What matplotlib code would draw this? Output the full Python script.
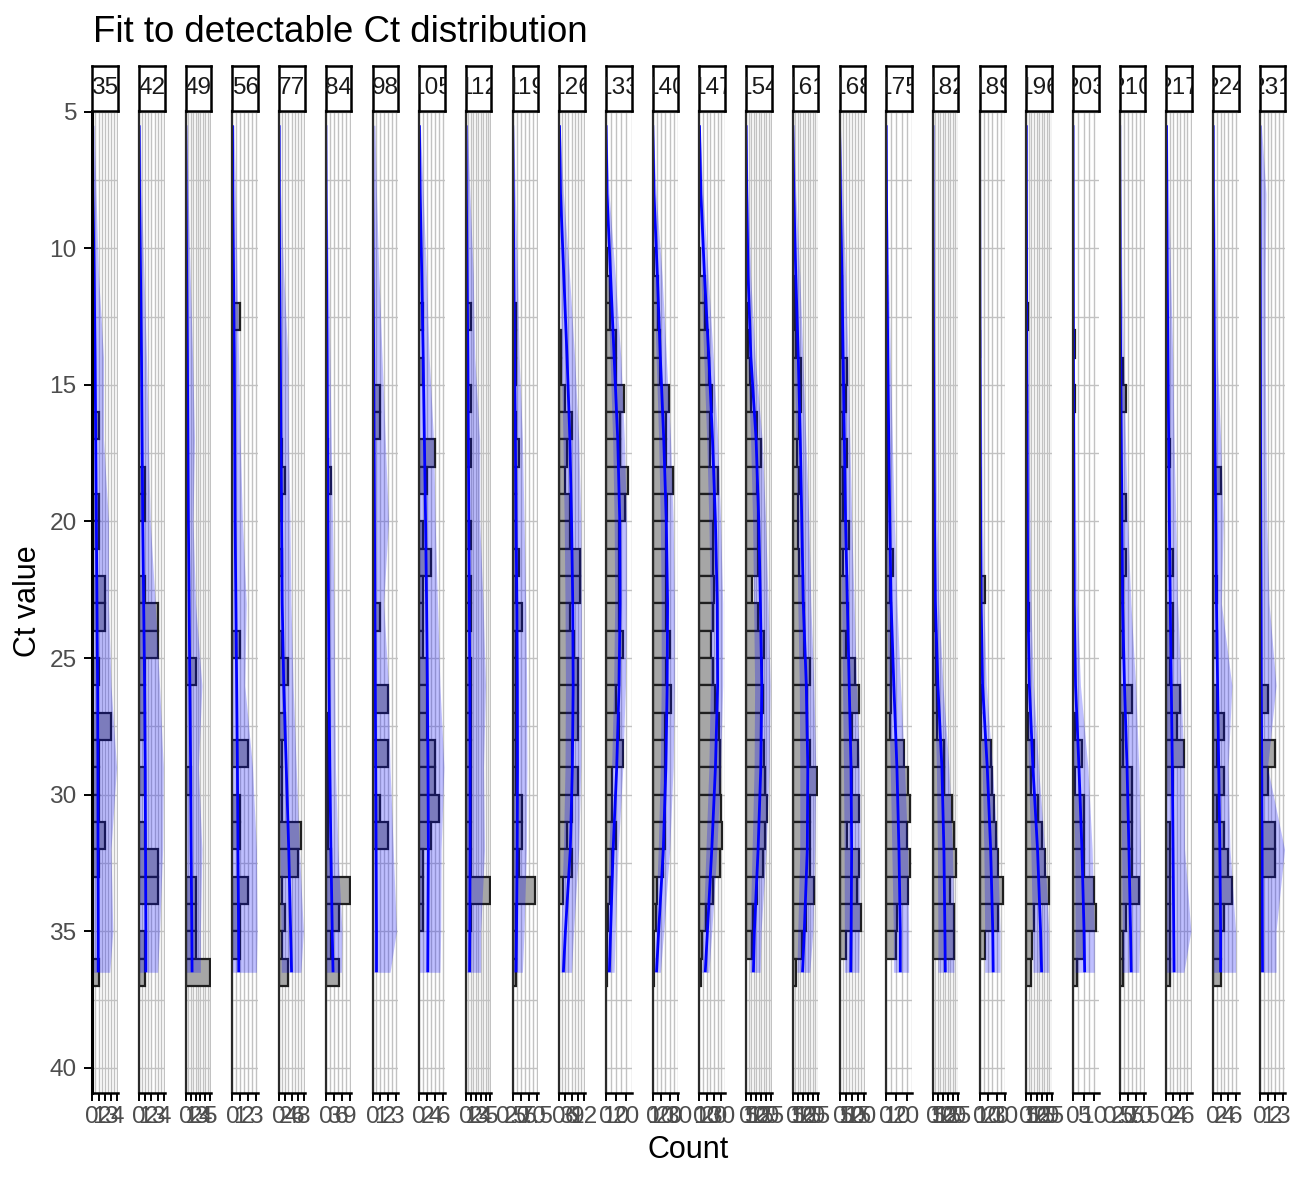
import matplotlib
matplotlib.use('Agg')
import matplotlib.pyplot as plt
from matplotlib.ticker import MultipleLocator, FuncFormatter

plt.rcParams['font.family'] = ['Liberation Sans', 'DejaVu Sans']

# ---------------- data ----------------
days = [35, 42, 49, 56, 77, 84, 98, 105, 112, 119, 126, 133, 140, 147,
        154, 161, 168, 175, 182, 189, 196, 203, 210, 217, 224, 231]

x_max = [4.1, 4.1, 5.2, 3.3, 8.2, 9.5, 3.2, 6.4, 5.2, 7.8, 12.5, 25, 30, 35,
         25.5, 25.5, 21, 25, 25.5, 30, 25, 12, 8, 7.3, 6.8, 3.3]
x_step = [1, 1, 1, 1, 2, 3, 1, 2, 1, 2.5, 3, 10, 10, 10,
          5, 5, 5, 10, 5, 10, 5, 5, 2.5, 2, 2, 1]

# histogram counts: {bin left edge (Ct): count}, bins of width 1
bar_counts = [
    {16: 1, 19: 1, 20: 1, 22: 2, 23: 2, 25: 1, 27: 3, 28: 1, 29: 1, 30: 1, 31: 2, 32: 1, 36: 1},
    {18: 1, 19: 1, 22: 1, 23: 3, 24: 3, 25: 1, 26: 1, 27: 1, 29: 1, 31: 1, 32: 3, 33: 3, 35: 1, 36: 1},
    {25: 2, 29: 1, 33: 2, 34: 2, 35: 2, 36: 5},
    {12: 1, 24: 1, 28: 2, 30: 1, 31: 1, 33: 2, 34: 1, 35: 1},
    {17: 1, 18: 2, 19: 1, 21: 1, 24: 1, 25: 3, 27: 2, 28: 1, 29: 1, 30: 1, 31: 7, 32: 6, 33: 1, 34: 2, 35: 1, 36: 3},
    {17: 1, 18: 2, 27: 1, 28: 1, 29: 1, 30: 1, 31: 1, 32: 2, 33: 9, 34: 5, 35: 2, 36: 5},
    {15: 1, 16: 1, 23: 1, 26: 2, 28: 2, 30: 1, 31: 2},
    {12: 1, 14: 1, 17: 4, 18: 2, 20: 1, 21: 3, 22: 1, 23: 1, 24: 1, 25: 2, 26: 2, 27: 2, 28: 4, 29: 4, 30: 5, 31: 3, 32: 1, 33: 1, 34: 1},
    {12: 1, 15: 1, 17: 1, 20: 1, 22: 1, 23: 1, 25: 1, 26: 1, 27: 1, 28: 1, 29: 1, 30: 1, 31: 1, 32: 1, 33: 5, 34: 1},
    {12: 1, 13: 1, 14: 1, 16: 1, 17: 2, 18: 1, 19: 1, 20: 1, 21: 2, 22: 1, 23: 3, 24: 1, 25: 1, 26: 1, 27: 1, 28: 1, 29: 1, 30: 3, 31: 3, 32: 2, 33: 7, 34: 1, 35: 1, 36: 1},
    {13: 1, 14: 1, 15: 3, 16: 6, 17: 4, 18: 3, 19: 5, 20: 5, 21: 10, 22: 10, 23: 5, 24: 7, 25: 9, 26: 9, 27: 9, 28: 6, 29: 9, 30: 6, 31: 4, 32: 6, 33: 2},
    {10: 1, 11: 4, 12: 4, 13: 10, 14: 10, 15: 18, 16: 14, 17: 14, 18: 22, 19: 19, 20: 13, 21: 13, 22: 13, 23: 13, 24: 17, 25: 13, 26: 10, 27: 13, 28: 17, 29: 6, 30: 6, 31: 10, 32: 6, 33: 4, 34: 2, 35: 1, 36: 1},
    {10: 1, 11: 6, 12: 6, 13: 9, 14: 8, 15: 19, 16: 16, 17: 16, 18: 24, 19: 17, 20: 16, 21: 16, 22: 16, 23: 16, 24: 20, 25: 16, 26: 21, 27: 14, 28: 14, 29: 14, 30: 14, 31: 14, 32: 12, 33: 5, 34: 4, 35: 2, 36: 1},
    {10: 1, 11: 7, 12: 7, 13: 12, 14: 13, 15: 17, 16: 14, 17: 15, 18: 26, 19: 20, 20: 18, 21: 18, 22: 20, 23: 18, 24: 16, 25: 18, 26: 22, 27: 27, 28: 28, 29: 28, 30: 30, 31: 31, 32: 28, 33: 18, 34: 9, 35: 4, 36: 2},
    {12: 1, 13: 2, 14: 4, 15: 5, 16: 11, 17: 15, 18: 11, 19: 12, 20: 12, 21: 12, 22: 6, 23: 12, 24: 18, 25: 16, 26: 17, 27: 15, 28: 18, 29: 19, 30: 21, 31: 19, 32: 17, 33: 11, 34: 7, 35: 6},
    {11: 2, 12: 2, 13: 3, 14: 8, 15: 8, 16: 6, 17: 4, 18: 6, 19: 5, 20: 5, 21: 6, 22: 10, 23: 11, 24: 11, 25: 17, 26: 14, 27: 14, 28: 17, 29: 24, 30: 17, 31: 17, 32: 17, 33: 21, 34: 13, 35: 9, 36: 3},
    {11: 2, 12: 2, 13: 2, 14: 6, 15: 5, 16: 3, 17: 6, 18: 3, 19: 3, 20: 8, 21: 3, 22: 6, 23: 7, 24: 5, 25: 13, 26: 16, 27: 10, 28: 15, 29: 10, 30: 16, 31: 6, 32: 16, 33: 14, 34: 18, 35: 5},
    {11: 1, 12: 1, 13: 1, 14: 1, 15: 1, 16: 1, 17: 2, 18: 1, 19: 1, 20: 1, 21: 7, 22: 4, 23: 5, 24: 5, 25: 5, 26: 5, 27: 4, 28: 17, 29: 21, 30: 23, 31: 20, 32: 23, 33: 21, 34: 11, 35: 10},
    {19: 1, 21: 1, 22: 1, 23: 2, 24: 3, 25: 3, 26: 4, 27: 4, 28: 11, 29: 11, 30: 19, 31: 21, 32: 23, 33: 17, 34: 21, 35: 21},
    {13: 1, 18: 1, 20: 1, 22: 6, 23: 1, 24: 1, 25: 1, 26: 2, 27: 2, 28: 13, 29: 15, 30: 17, 31: 19, 32: 22, 33: 28, 34: 22, 35: 6},
    {12: 2, 15: 1, 16: 1, 19: 1, 23: 3, 26: 1, 27: 2, 28: 8, 29: 5, 30: 11, 31: 15, 32: 18, 33: 22, 34: 8, 35: 6, 36: 5},
    {13: 1, 15: 1, 27: 1, 28: 4, 29: 1, 30: 5, 31: 5, 32: 5, 33: 10, 34: 11, 35: 5, 36: 2},
    {14: 1, 15: 2, 19: 2, 21: 2, 22: 1, 23: 1, 24: 1, 26: 4, 27: 1, 28: 1, 29: 4, 30: 4, 31: 4, 32: 4, 33: 6, 34: 2, 35: 1, 36: 1},
    {17: 1, 21: 2, 23: 2, 24: 2, 25: 1, 26: 4, 27: 3, 28: 5, 29: 2, 31: 1, 32: 1, 33: 1, 34: 1, 35: 1, 36: 1},
    {18: 2, 22: 1, 24: 1, 26: 1, 27: 3, 28: 1, 29: 3, 30: 1, 31: 3, 32: 4, 33: 5, 34: 3, 35: 2, 36: 2},
    {26: 1, 28: 2, 29: 1, 31: 2, 32: 2},
]

# Ct values at which the fitted curve and its band were read
fit_ct = [5.5, 8, 11, 14, 17, 20, 23, 26, 29, 32, 35, 36.5]

fit_line = [
    [0.02, 0.1, 0.3, 0.45, 0.55, 0.65, 0.75, 0.85, 0.9, 0.92, 0.95, 0.95],
    [0.02, 0.1, 0.25, 0.4, 0.5, 0.6, 0.75, 0.9, 1.0, 1.05, 1.1, 1.1],
    [0.02, 0.1, 0.2, 0.35, 0.45, 0.55, 0.7, 0.85, 1.0, 1.1, 1.25, 1.3],
    [0.01, 0.05, 0.15, 0.25, 0.3, 0.35, 0.45, 0.55, 0.65, 0.72, 0.8, 0.82],
    [0.02, 0.05, 0.2, 0.4, 0.6, 0.8, 1.0, 1.5, 2.3, 3.1, 3.7, 4.0],
    [0.02, 0.1, 0.3, 0.5, 0.65, 0.8, 1.0, 1.2, 1.5, 1.9, 2.4, 2.7],
    [0.01, 0.03, 0.08, 0.15, 0.2, 0.25, 0.3, 0.35, 0.4, 0.45, 0.5, 0.5],
    [0.05, 0.25, 0.65, 1.0, 1.3, 1.6, 1.85, 2.05, 2.2, 2.3, 2.2, 2.15],
    [0.02, 0.1, 0.25, 0.4, 0.5, 0.6, 0.7, 0.8, 0.85, 0.85, 0.8, 0.75],
    [0.03, 0.2, 0.4, 0.6, 0.85, 1.05, 1.3, 1.45, 1.5, 1.4, 1.2, 1.05],
    [0.1, 0.6, 2.2, 3.8, 5.2, 6.0, 6.6, 6.8, 6.4, 5.4, 3.0, 2.0],
    [0.1, 1.0, 4.5, 8.0, 11.5, 13.5, 13.8, 12.8, 10.5, 7.0, 4.5, 3.3],
    [0.1, 1.5, 5.5, 9.0, 13.0, 16.0, 17.5, 17.0, 15.5, 12.5, 7.0, 4.5],
    [0.1, 2.0, 7.0, 13.0, 18.0, 22.0, 24.5, 25.0, 22.0, 17.0, 11.0, 8.0],
    [0.05, 0.6, 2.0, 4.8, 10.0, 12.7, 14.3, 15.7, 14.7, 12.0, 8.3, 7.3],
    [0.05, 1.0, 3.0, 5.5, 7.5, 9.0, 10.5, 13.5, 15.0, 14.5, 11.5, 9.7],
    [0.05, 0.8, 2.0, 3.0, 4.0, 5.0, 6.5, 8.0, 9.5, 10.0, 9.6, 9.3],
    [0.02, 0.3, 0.8, 1.6, 2.5, 3.5, 4.8, 7.5, 10.5, 12.5, 13.8, 13.8],
    [0.01, 0.1, 0.3, 0.6, 1.0, 1.6, 2.5, 5.0, 9.0, 11.0, 12.0, 12.4],
    [0.01, 0.1, 0.3, 0.5, 0.8, 1.2, 1.8, 3.5, 9.0, 13.0, 15.5, 16.0],
    [0.01, 0.1, 0.3, 0.5, 0.8, 1.1, 1.6, 3.0, 6.5, 11.0, 14.0, 15.0],
    [0.01, 0.05, 0.1, 0.2, 0.3, 0.45, 0.6, 1.2, 2.8, 4.2, 5.2, 5.5],
    [0.01, 0.05, 0.15, 0.3, 0.5, 0.7, 0.9, 1.5, 2.3, 2.9, 3.4, 3.6],
    [0.02, 0.1, 0.25, 0.45, 0.65, 0.85, 1.1, 1.4, 1.7, 1.9, 2.1, 2.2],
    [0.01, 0.05, 0.2, 0.35, 0.5, 0.7, 0.9, 1.2, 1.5, 1.8, 2.0, 2.0],
    [0.01, 0.02, 0.05, 0.08, 0.1, 0.13, 0.17, 0.2, 0.25, 0.3, 0.33, 0.35],
]

band_lo = [
    [0] * 12, [0] * 12, [0] * 12, [0] * 12,
    [0, 0, 0, 0, 0, 0, 0, 0, 0, 0.3, 0.6, 0.7],
    [0] * 12, [0] * 12, [0] * 12, [0] * 12, [0] * 12,
    [0, 0, 0.3, 1.0, 1.8, 2.4, 2.8, 3.0, 2.8, 2.0, 0.8, 0.4],
    [0, 0, 1.5, 4.0, 6.5, 8.0, 8.5, 7.5, 5.5, 3.0, 1.0, 0.5],
    [0, 0, 1.5, 4.0, 7.0, 9.0, 10.0, 10.0, 9.0, 6.5, 3.0, 1.5],
    [0, 0, 2, 6, 10, 13, 15, 15, 13, 9, 5, 3],
    [0, 0, 0.3, 1.5, 4.5, 6.5, 7.5, 8.5, 8.0, 6.0, 4.0, 3.5],
    [0, 0, 0.5, 1.5, 3, 4, 5, 6.5, 7, 7, 5, 4],
    [0, 0, 0, 0.3, 0.8, 1.2, 1.8, 2.5, 3.3, 3.8, 4.0, 4.0],
    [0, 0, 0, 0, 0, 0.3, 0.8, 2, 4, 5.5, 7, 7],
    [0, 0, 0, 0, 0, 0, 0.3, 1.5, 3.5, 4.5, 5, 5],
    [0, 0, 0, 0, 0, 0, 0, 0.5, 3, 5, 6, 6],
    [0, 0, 0, 0, 0, 0, 0, 0.3, 2, 4.5, 6, 6.5],
    [0, 0, 0, 0, 0, 0, 0, 0, 0.3, 0.8, 1.0, 1.0],
    [0, 0, 0, 0, 0, 0, 0, 0, 0.3, 0.6, 0.8, 0.8],
    [0] * 12, [0] * 12, [0] * 12,
]

band_hi = [
    [0.3, 0.6, 1.0, 1.8, 1.8, 2.6, 2.6, 3.0, 3.9, 3.0, 3.3, 2.8],
    [0.2, 0.4, 0.8, 1.2, 1.5, 1.8, 2.6, 3.3, 3.9, 3.8, 3.3, 3.0],
    [0.2, 0.5, 0.9, 1.4, 1.8, 1.5, 2.0, 3.3, 2.6, 3.3, 3.0, 3.0],
    [0.2, 0.4, 0.6, 0.8, 1.0, 1.3, 1.8, 1.6, 2.6, 3.1, 3.2, 3.1],
    [0.2, 0.5, 1.5, 2.8, 3.0, 3.5, 3.8, 4.5, 5.5, 6.5, 7.8, 7.0],
    [0.2, 0.5, 1.0, 1.5, 2.0, 2.5, 3.0, 3.3, 3.6, 4.5, 6.0, 5.8],
    [0.3, 0.5, 0.8, 1.2, 1.6, 2.0, 1.4, 2.0, 2.2, 2.6, 3.0, 2.2],
    [0.3, 1.0, 1.8, 2.5, 3.6, 4.0, 4.6, 5.2, 6.2, 5.5, 5.4, 5.2],
    [0.3, 0.8, 1.5, 1.8, 2.8, 2.8, 3.5, 4.0, 3.6, 3.8, 3.0, 3.0],
    [0.3, 0.8, 1.5, 2.0, 3.0, 3.5, 4.0, 4.3, 4.4, 4.2, 3.5, 3.0],
    [0.3, 2.0, 5.0, 7.5, 9.5, 10.5, 10.8, 10.8, 10.5, 9.5, 7.0, 6.0],
    [0.5, 3.0, 9.0, 14.5, 18.0, 20.0, 20.0, 19.0, 16.5, 12.0, 9.0, 8.0],
    [0.5, 4.0, 11.0, 16.0, 21.0, 24.0, 25.5, 25.5, 24.0, 20.0, 13.0, 9.0],
    [0.5, 5, 12, 19, 25, 29, 32, 32, 29, 24, 17, 13],
    [0.3, 2.0, 4.5, 9.0, 16.0, 19.5, 22.0, 24.0, 23.0, 20.0, 15.0, 14.0],
    [0.5, 3, 7, 10, 13, 16, 18, 21, 23, 22, 20, 17],
    [0.5, 2.5, 5, 7, 8.5, 10, 12, 14, 16.5, 17, 16.5, 16],
    [0.3, 1, 2.5, 4, 6, 8, 10.5, 14, 18, 21, 22, 22],
    [0.2, 0.5, 1.0, 2.0, 3.0, 4.0, 6.0, 10.0, 16.0, 19.5, 21.0, 21.0],
    [0.2, 0.4, 0.8, 1.5, 2.5, 3.5, 5, 8, 15, 21, 24, 24],
    [0.2, 0.5, 1, 1.5, 2.5, 3.5, 4.5, 7, 12, 18, 22, 22],
    [0.1, 0.3, 0.5, 0.7, 1.0, 1.3, 2.0, 3.5, 7.0, 9.0, 10.0, 10.0],
    [0.2, 0.4, 0.7, 1.2, 1.8, 2.5, 3.5, 5.0, 6.0, 6.5, 6.3, 6.0],
    [0.3, 0.6, 1.2, 1.8, 2.2, 2.7, 3.2, 4.2, 5.0, 5.2, 7.0, 5.0],
    [0.2, 0.4, 0.8, 1.1, 2.0, 2.7, 2.2, 5.0, 4.0, 4.5, 6.0, 6.0],
    [0.2, 0.8, 0.7, 0.7, 0.8, 0.9, 1.2, 2.1, 1.0, 3.2, 2.1, 2.1],
]

y_limits = (40.9, 4.96)
y_ticks = [5, 10, 15, 20, 25, 30, 35, 40]

# ---------------- layout (pixels of the 1299x1181 canvas) ----------------
W, H, DPI = 1299, 1181, 200
fig = plt.figure(figsize=(W / DPI, H / DPI), dpi=DPI)
fig.patch.set_facecolor('white')

panel_x0, panel_dx, panel_w = 92.3, 46.7, 25.5
panel_top, panel_bot = 110.5, 1092.5
strip_top = 65.5

grid_col = '#c2c2c2'
tick_col = '#333333'
lab_col = '#4d4d4d'


def fmt_factory(step):
    if step == 2.5:
        return FuncFormatter(lambda v, p: f'{v:.1f}')
    return FuncFormatter(lambda v, p: f'{v:g}')


for i, day in enumerate(days):
    left = panel_x0 + i * panel_dx
    ax = fig.add_axes([left / W, 1 - panel_bot / H, panel_w / W,
                       (panel_bot - panel_top) / H])
    ax.set_facecolor('white')
    ax.set_xlim(0, x_max[i])
    ax.set_ylim(*y_limits)

    ax.xaxis.set_major_locator(MultipleLocator(x_step[i]))
    ax.xaxis.set_minor_locator(MultipleLocator(x_step[i] / 2))
    ax.xaxis.set_major_formatter(fmt_factory(x_step[i]))
    ax.set_yticks(y_ticks)
    ax.yaxis.set_minor_locator(MultipleLocator(2.5))
    ax.grid(which='both', color=grid_col, lw=0.5)
    ax.set_axisbelow(True)

    bins = sorted(bar_counts[i].keys())
    vals = [bar_counts[i][b] for b in bins]
    ax.barh(bins, vals, height=1, align='edge', color='#a6a6a6',
            edgecolor='#1f1f1f', linewidth=0.8, zorder=2)
    ax.fill_betweenx(fit_ct, band_lo[i], band_hi[i], color='blue',
                     alpha=0.25, lw=0, zorder=3)
    ax.plot(fit_line[i], fit_ct, color='blue', lw=1.0, zorder=4,
            solid_capstyle='butt', solid_joinstyle='round')

    for s in ('top', 'right'):
        ax.spines[s].set_visible(False)
    ax.spines['bottom'].set_color('black')
    ax.spines['bottom'].set_linewidth(0.9)
    if i == 0:
        ax.spines['left'].set_color('black')
        ax.spines['left'].set_linewidth(1.1)
    else:
        ax.spines['left'].set_color('#2b2b2b')
        ax.spines['left'].set_linewidth(0.8)
    for s in ('left', 'bottom'):
        ax.spines[s].set_zorder(5)

    ax.tick_params(axis='x', which='major', length=2.75, width=0.7,
                   color='black', labelsize=8.8, labelcolor=lab_col, pad=2.2)
    ax.tick_params(axis='y', which='major', length=2.75 if i == 0 else 0,
                   width=0.7, color='black', labelsize=8.8,
                   labelcolor=lab_col, pad=2.9, left=(i == 0),
                   labelleft=(i == 0))
    ax.tick_params(which='minor', length=0)

    # strip
    sx = fig.add_axes([left / W, 1 - panel_top / H, panel_w / W,
                       (panel_top - strip_top) / H])
    sx.set_facecolor('white')
    sx.set_xticks([])
    sx.set_yticks([])
    for s in sx.spines.values():
        s.set_color('black')
        s.set_linewidth(0.9)
    sx.text(0.5, 0.5, str(day), transform=sx.transAxes, ha='center',
            va='center', fontsize=8.8, color='#1a1a1a', clip_on=True)

fig.text(93 / W, 1 - 41.7 / H, 'Fit to detectable Ct distribution',
         ha='left', va='baseline', fontsize=13.2, color='black')
fig.text(28 / W, 1 - 601 / H, 'Ct value', rotation=90, ha='center',
         va='center', fontsize=11, color='black')
fig.text(688.5 / W, 1 - 1150 / H, 'Count', ha='center', va='center',
         fontsize=11, color='black')

fig.savefig('out.png', dpi=DPI, facecolor='white')
